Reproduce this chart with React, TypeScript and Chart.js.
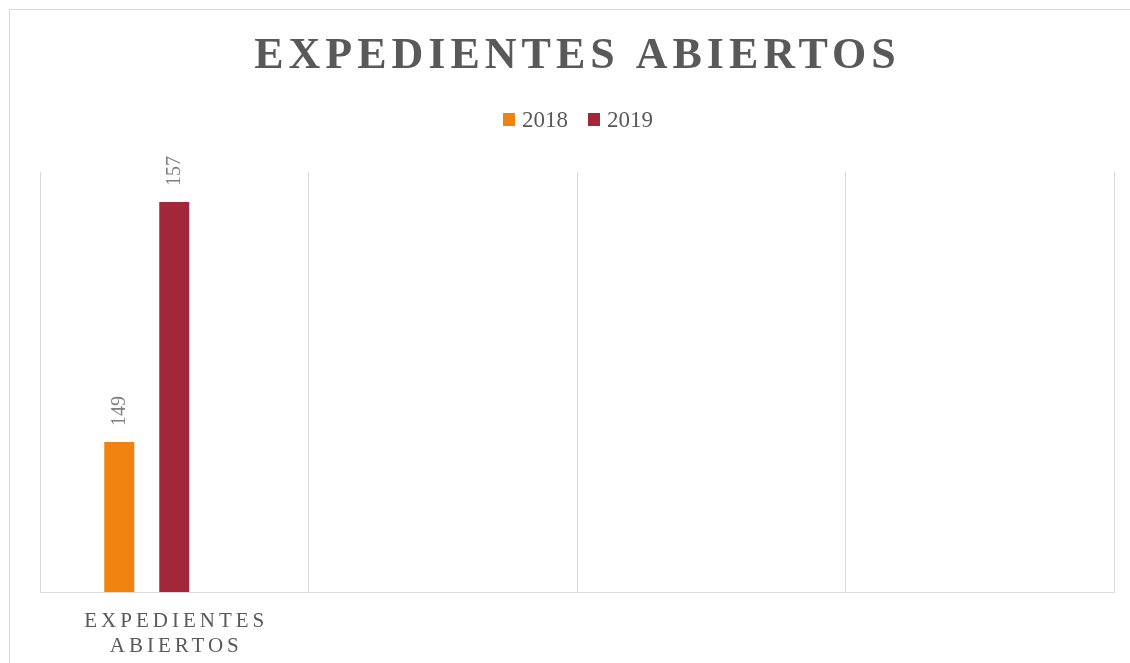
import React, { useEffect, useRef } from "react";
import { Chart, registerables } from "chart.js";

Chart.register(...registerables);

// ---- data ----
const chartTitle = "EXPEDIENTES ABIERTOS";
const categories = ["EXPEDIENTES ABIERTOS", "", "", ""];
const categoryLines = [["EXPEDIENTES", "ABIERTOS"], [], [], []];
const seriesLabels = ["2018", "2019", ""];
const values2018 = [149, null, null, null];
const values2019 = [157, null, null, null];
const valuesEmpty = [null, null, null, null];
const seriesColors = ["#F08310", "#A22839", "#A5A5A5"];
const yMin = 144;
const yMax = 158;

const SERIF = "'Liberation Serif', 'Times New Roman', serif";

function drawSpaced(ctx: CanvasRenderingContext2D, text: string, cx: number, y: number, spacing: number) {
  (ctx as any).letterSpacing = spacing + "px";
  const w = ctx.measureText(text).width - spacing;
  ctx.textAlign = "left";
  ctx.fillText(text, cx - w / 2, y);
  (ctx as any).letterSpacing = "0px";
}

const textPlugin = {
  id: "customText",
  afterDraw(chart: any) {
    const ctx: CanvasRenderingContext2D = chart.ctx;
    ctx.save();
    // Title
    ctx.fillStyle = "#595959";
    ctx.textBaseline = "alphabetic";
    ctx.font = "bold 44px " + SERIF;
    drawSpaced(ctx, chartTitle, 575, 68, 5);

    // Legend
    ctx.font = "23px " + SERIF;
    const items = chart.data.datasets
      .map((d: any, i: number) => ({ label: d.label, color: seriesColors[i] }))
      .filter((it: any) => it.label);
    const box = 12, gapBT = 7, gapItem = 20;
    const widths = items.map((it: any) => ctx.measureText(it.label).width);
    let total = 0;
    widths.forEach((w: number, i: number) => {
      total += box + gapBT + w + (i < widths.length - 1 ? gapItem : 0);
    });
    let x = 578 - total / 2;
    const ly = 119.5;
    items.forEach((it: any, i: number) => {
      ctx.fillStyle = it.color;
      ctx.fillRect(x, ly - 6.5, box, 13);
      x += box + gapBT;
      ctx.fillStyle = "#595959";
      ctx.textAlign = "left";
      ctx.textBaseline = "middle";
      ctx.fillText(it.label, x, ly + 1);
      x += widths[i] + gapItem;
    });

    // Category labels
    const xs = chart.scales.x;
    ctx.fillStyle = "#595959";
    ctx.textBaseline = "alphabetic";
    ctx.font = "21px " + SERIF;
    categoryLines.forEach((lines, i) => {
      const cx = xs.getPixelForValue(i);
      lines.forEach((line, j) => {
        drawSpaced(ctx, line, cx, 627 + j * 25, 4);
      });
    });

    // Data labels (rotated)
    ctx.font = "20px " + SERIF;
    ctx.fillStyle = "#7F7F7F";
    chart.data.datasets.forEach((ds: any, di: number) => {
      const meta = chart.getDatasetMeta(di);
      meta.data.forEach((bar: any, j: number) => {
        const v = ds.data[j];
        if (v === null || v === undefined) return;
        ctx.save();
        ctx.translate(bar.x, bar.y - 16);
        ctx.rotate(-Math.PI / 2);
        ctx.textAlign = "left";
        ctx.textBaseline = "middle";
        ctx.fillText(String(v), 0, 0);
        ctx.restore();
      });
    });
    ctx.restore();
  },
};

export default function App() {
  const canvasRef = useRef<HTMLCanvasElement | null>(null);

  useEffect(() => {
    if (!canvasRef.current) return;
    const chart = new Chart(canvasRef.current, {
      type: "bar",
      data: {
        labels: categories,
        datasets: [
          { label: seriesLabels[0], data: values2018, backgroundColor: seriesColors[0] },
          { label: seriesLabels[1], data: values2019, backgroundColor: seriesColors[1] },
          { label: seriesLabels[2], data: valuesEmpty, backgroundColor: seriesColors[2] },
        ],
      },
      options: {
        responsive: false,
        animation: false,
        devicePixelRatio: 1,
        layout: { padding: { left: 40, right: 16, top: 172, bottom: 71 } },
        datasets: {
          bar: { categoryPercentage: 0.6145, barPercentage: 0.5455 },
        },
        plugins: {
          legend: { display: false },
          title: { display: false },
          tooltip: { enabled: false },
        },
        scales: {
          x: {
            display: true,
            grid: { display: true, color: "#D9D9D9", lineWidth: 1, drawTicks: false, offset: true },
            border: { display: true, color: "#D9D9D9", width: 1 },
            ticks: { display: false },
          },
          y: {
            display: false,
            min: yMin,
            max: yMax,
          },
        },
      },
      plugins: [textPlugin],
    });
    return () => chart.destroy();
  }, []);

  return (
    <div style={{ position: "fixed", left: 0, top: 0, width: 1130, height: 663, overflow: "hidden", background: "#fff" }}>
      <div
        style={{
          position: "absolute",
          left: 9,
          top: 9,
          right: -10,
          bottom: -10,
          borderTop: "1px solid #D9D9D9",
          borderLeft: "1px solid #D9D9D9",
        }}
      />
      <canvas ref={canvasRef} width={1130} height={663} style={{ position: "absolute", left: 0, top: 0, display: "block" }} />
    </div>
  );
}
